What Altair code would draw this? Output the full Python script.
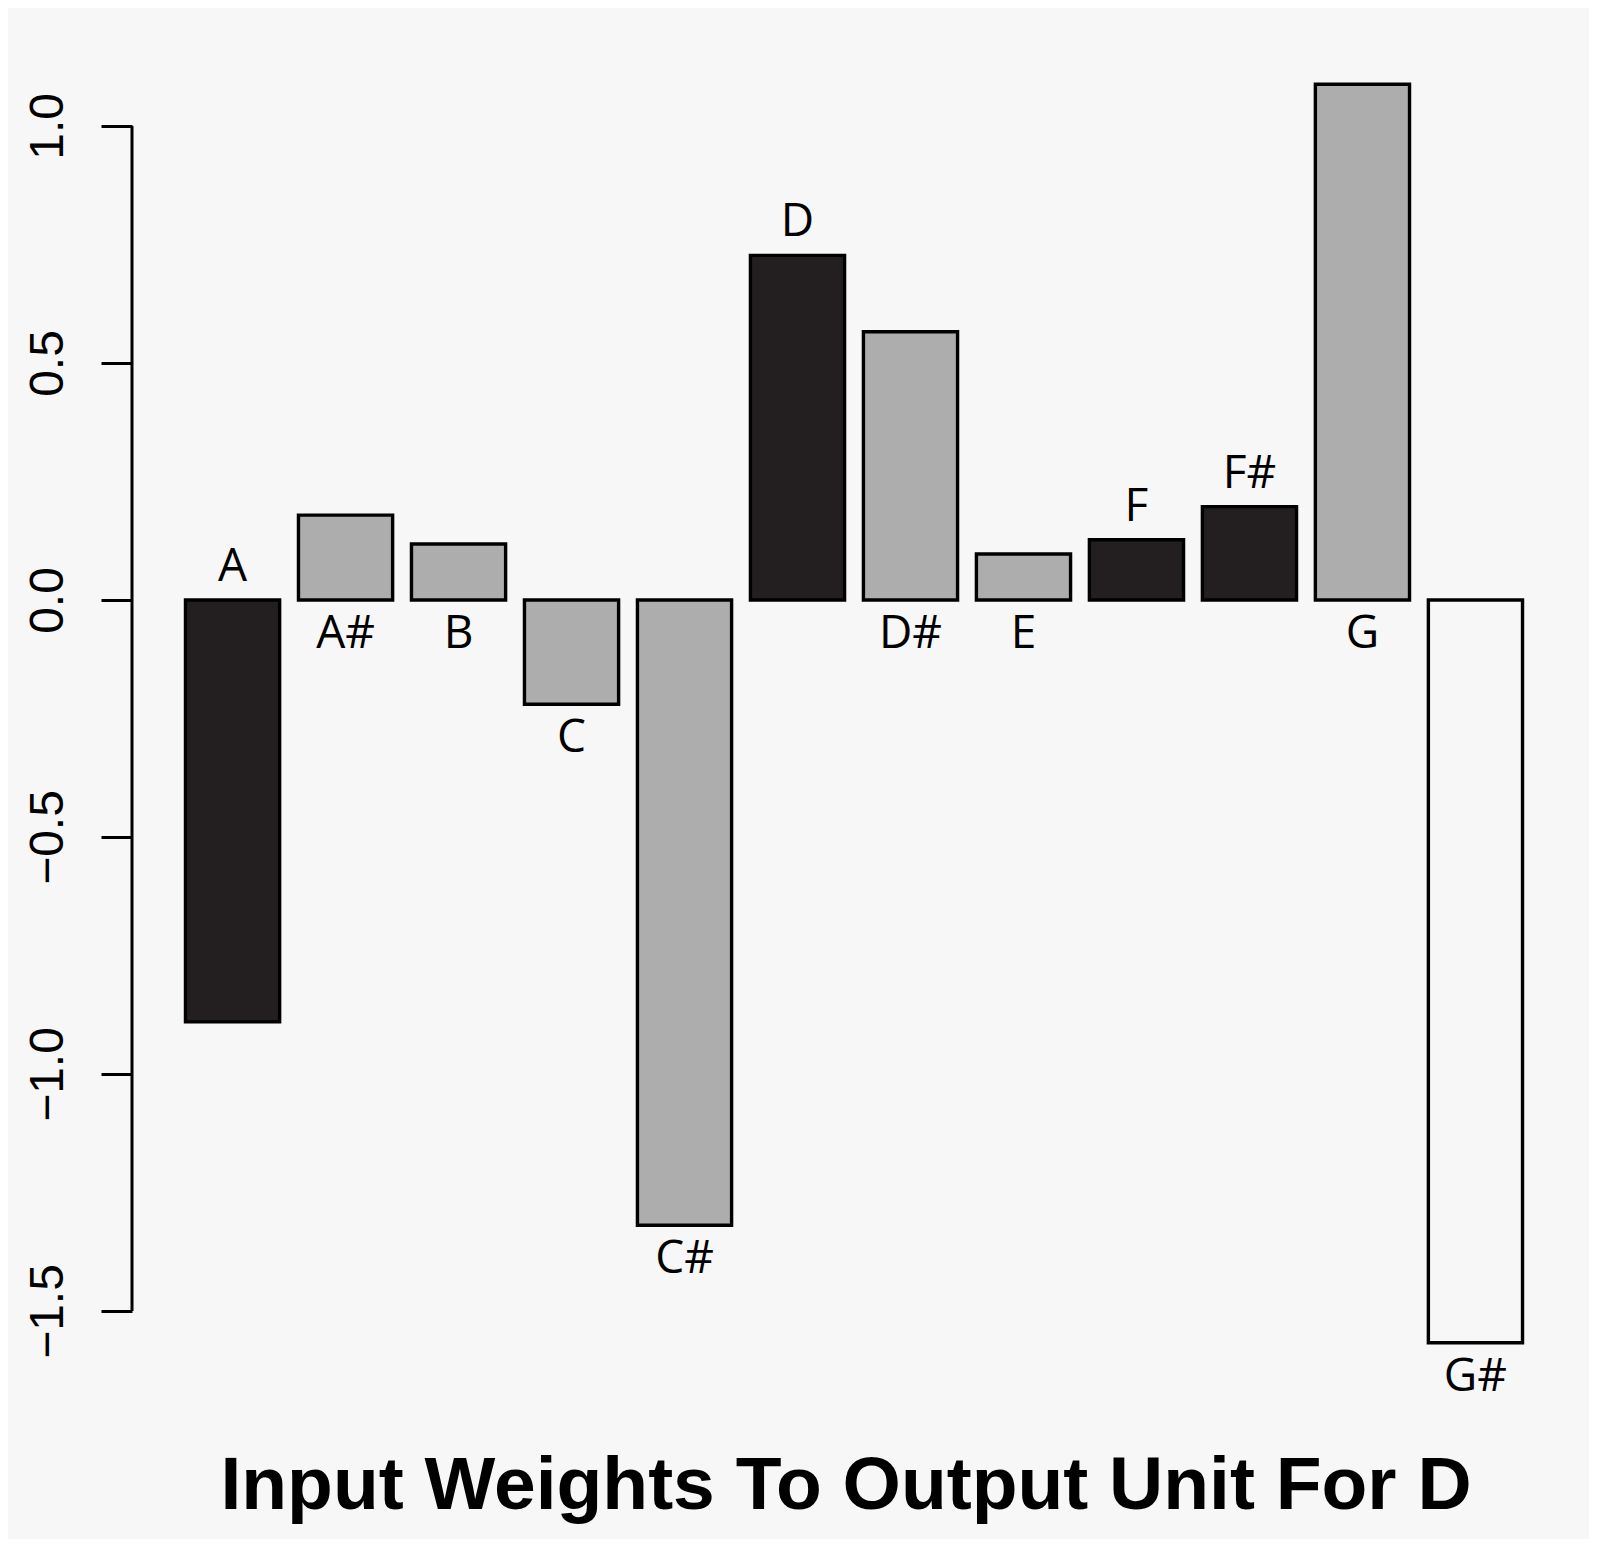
import altair as alt
import pandas as pd

# ---- data ----
notes = ["A", "A#", "B", "C", "C#", "D", "D#", "E", "F", "F#", "G", "G#"]
weights = [-0.890, 0.179, 0.118, -0.220, -1.319, 0.727, 0.566, 0.097, 0.127, 0.197, 1.088, -1.567]
shade = ["dark", "grey", "grey", "grey", "grey", "dark", "grey", "grey", "dark", "dark", "grey", "white"]
label_side = ["above", "below", "below", "below", "below", "above", "below", "below", "above", "above", "below", "below"]
y_ticks = [-1.5, -1.0, -0.5, 0.0, 0.5, 1.0]
title_text = "Input Weights To Output Unit For D"

df = pd.DataFrame({"note": notes, "weight": weights, "shade": shade, "side": label_side})

BG = "#f7f7f7"
x_scale = alt.Scale(domain=notes, paddingInner=1 / 6, paddingOuter=0.4733)
y_scale = alt.Scale(domain=[-1.673, 1.194], nice=False, zero=False)
x_enc = alt.X("note:N", scale=x_scale, axis=None, sort=notes)

base = alt.Chart(df)

bars = base.mark_bar(stroke="black", strokeWidth=3.4).encode(
    x=x_enc,
    y=alt.Y(
        "weight:Q",
        scale=y_scale,
        title=None,
        axis=alt.Axis(
            values=y_ticks,
            format=".1f",
            domain=False,
            grid=False,
            ticks=True,
            tickSize=31,
            tickWidth=3,
            tickColor="black",
            labelAngle=270,
            labelAlign="center",
            labelBaseline="alphabetic",
            labelPadding=39,
            labelFont="Liberation Sans",
            labelFontSize=48,
            labelColor="black",
            labelOverlap=False,
            labelFlush=False,
        ),
    ),
    y2=alt.datum(0),
    color=alt.Color(
        "shade:N",
        scale=alt.Scale(domain=["dark", "grey", "white"], range=["#231f20", "#adadad", BG]),
        legend=None,
    ),
)

axis_line = alt.Chart(pd.DataFrame({"lo": [min(y_ticks)], "hi": [max(y_ticks)]})).mark_rule(
    color="black", strokeWidth=3
).encode(
    x=alt.value(0),
    y=alt.Y("lo:Q", scale=y_scale),
    y2="hi:Q",
)

above = base.transform_filter(alt.datum.side == "above").transform_calculate(
    anchor="max(datum.weight, 0)"
).mark_text(font="Open Sans", fontSize=46, color="black", baseline="alphabetic", dy=-19).encode(
    x=x_enc, y=alt.Y("anchor:Q", scale=y_scale), text="note:N"
)

below = base.transform_filter(alt.datum.side == "below").transform_calculate(
    anchor="min(datum.weight, 0)"
).mark_text(font="Open Sans", fontSize=46, color="black", baseline="alphabetic", dy=48).encode(
    x=x_enc, y=alt.Y("anchor:Q", scale=y_scale), text="note:N"
)

chart = (
    alt.layer(bars, axis_line, above, below)
    .properties(
        width=1444,
        height=1359,
        background=BG,
        padding={"left": 124, "top": 26, "right": 13, "bottom": 146},
        autosize=alt.AutoSizeParams(type="none"),
        title=alt.TitleParams(
            title_text,
            orient="bottom",
            anchor="middle",
            font="Liberation Sans",
            fontSize=75,
            fontWeight="bold",
            color="black",
            offset=50,
            dx=-8,
        ),
    )
    .configure_view(stroke=None)
)

chart.save("out.html", embed_options={"renderer": "svg", "actions": False})
